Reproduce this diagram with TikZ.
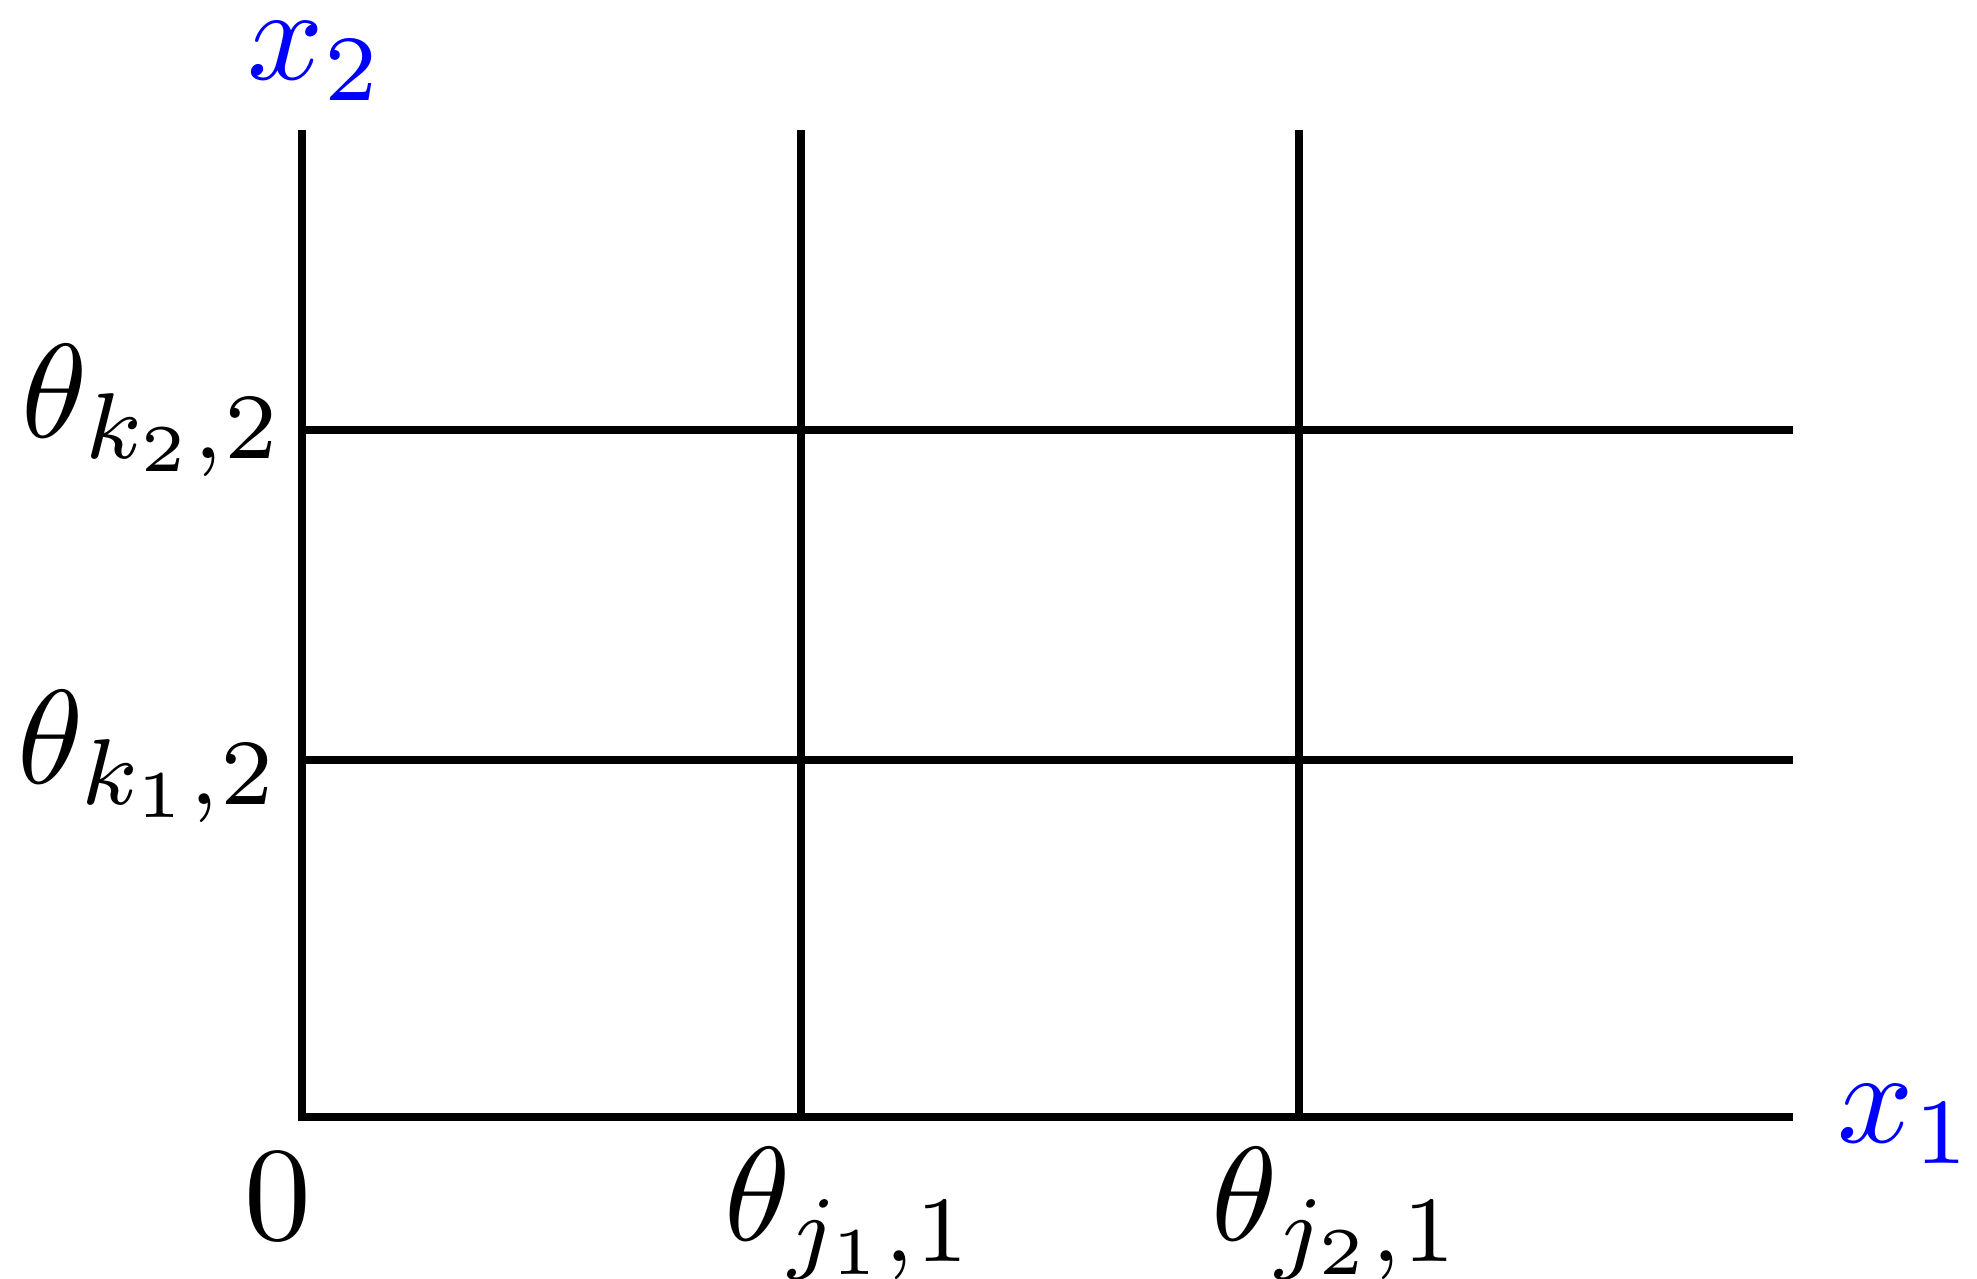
\documentclass[tikz,border=0pt]{standalone}
\usepackage{tikz}
\usetikzlibrary{positioning, calc}
\definecolor{axisblue}{HTML}{0000FF}
\definecolor{dark}{HTML}{000000}
\newcommand{\bigmath}[1]{\scalebox{3.8}{$#1$}}
\tikzset{
  gridline/.style={draw=dark, line width=0.08cm, line cap=butt},
  axisline/.style={draw=dark, line width=0.08cm, line join=miter},
  axislabel/.style={text=axisblue, anchor=base, inner sep=0pt},
  ticklabel/.style={text=dark, anchor=base, inner sep=0pt},
}

\begin{document}
\begin{tikzpicture}
\useasboundingbox (0,0) rectangle (19.77,12.79);

% --- grid corners ---
\coordinate (orig)  at (3.02, 1.62);
\coordinate (ytop)  at (3.02, 11.49);
\coordinate (xend)  at (17.93, 1.62);
\coordinate (ja)    at (8.01, 1.62);
\coordinate (jatop) at (8.01, 11.49);
\coordinate (jb)    at (12.99, 1.62);
\coordinate (jbtop) at (12.99, 11.49);
\coordinate (ka)    at (3.02, 5.19);
\coordinate (kaend) at (17.93, 5.19);
\coordinate (kb)    at (3.02, 8.49);
\coordinate (kbend) at (17.93, 8.49);

% --- grid lines ---
\draw[gridline] (ja) -- (jatop);
\draw[gridline] (jb) -- (jbtop);
\draw[gridline] (ka) -- (kaend);
\draw[gridline] (kb) -- (kbend);

% --- axes ---
\draw[axisline] (ytop) -- (orig) -- (xend);

% --- labels ---
\node[axislabel] (xtwo) at (3.16, 11.99) {\bigmath{x_2}};
\node[axislabel] (xone) at (19.06, 1.36) {\bigmath{x_1}};
\node[ticklabel] (zero) at (2.78, 0.39) {\bigmath{0}};
\node[ticklabel] (thja) at (8.50, 0.38) {\bigmath{\theta_{j_1,1}}};
\node[ticklabel] (thjb) at (13.37, 0.38) {\bigmath{\theta_{j_2,1}}};
\node[ticklabel] (thkb) at (1.53, 8.41) {\bigmath{\theta_{k_2,2}}};
\node[ticklabel] (thka) at (1.49, 4.95) {\bigmath{\theta_{k_1,2}}};

\end{tikzpicture}
\end{document}
